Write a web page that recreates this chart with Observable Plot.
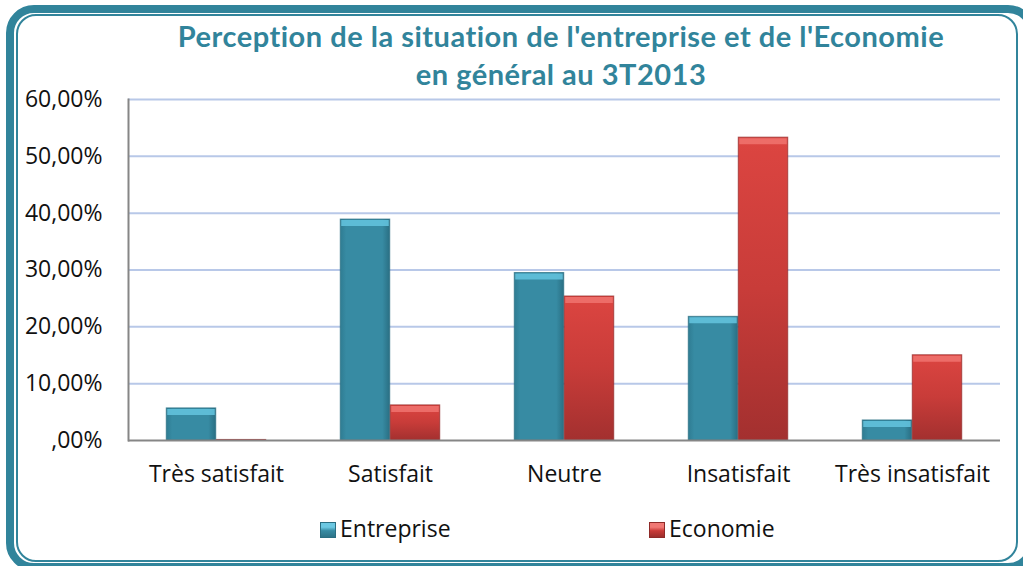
<!DOCTYPE html>
<html><head><meta charset="utf-8">
<script src="https://cdn.jsdelivr.net/npm/d3@7"></script>
<script src="https://cdn.jsdelivr.net/npm/@observablehq/plot@0.6"></script>
<style>
html,body{margin:0;padding:0;background:#fff;}
#page{position:relative;width:1023px;height:566px;overflow:hidden;background:#fff;font-family:"Open Sans",sans-serif;}
#outer{position:absolute;left:6px;top:5px;width:1030px;height:566px;box-sizing:border-box;border:8px solid #31849B;border-radius:28px;}
#inner{position:absolute;left:16px;top:14px;width:1002px;height:548px;box-sizing:border-box;border:2px solid #31849B;border-radius:20px;}
#title{position:absolute;left:0;width:1122px;top:17px;text-align:center;font-family:Lato,sans-serif;font-weight:700;font-size:29px;letter-spacing:0.5px;font-variant-ligatures:none;line-height:38px;color:#31849B;}
#chart{position:absolute;left:0;top:90px;}
.leg{position:absolute;top:512px;font-family:"Open Sans",sans-serif;font-size:23px;line-height:32px;color:#111;white-space:nowrap;}
.sw{display:inline-block;width:16px;height:16px;margin-right:4px;vertical-align:-1px;box-sizing:border-box;}
</style></head>
<body>
<div id="page">
  <div id="outer"></div>
  <div id="inner"></div>
  <div id="title">Perception de la situation de l'entreprise et de l'Economie<br>en général au 3T2013</div>
  <div id="chart"></div>
  <div id="legend"></div>
</div>
<script>
const categories = ["Très satisfait", "Satisfait", "Neutre", "Insatisfait", "Très insatisfait"];
const series = ["Entreprise", "Economie"];
const entreprise = [5.65, 38.88, 29.47, 21.76, 3.53];
const economie = [0.1, 6.18, 25.34, 53.29, 15.0];
const yTicks = [0, 10, 20, 30, 40, 50, 60];

const fillColors = {Entreprise: "url(#gradTeal)", Economie: "url(#gradRed)"};
const edgeColors = {Entreprise: "#2a6e82", Economie: "#8f2a28"};
const bevelColors = {Entreprise: "#62c1dc", Economie: "#ee716d"};
const swatchCss = {
  Entreprise: "background:linear-gradient(#6cc8e2 0,#6cc8e2 30%,#378BA3 55%,#2d7488 100%);border:1px solid #2a6e82;",
  Economie: "background:linear-gradient(#f07874 0,#f07874 30%,#c93b38 55%,#9c2e2c 100%);border:1px solid #8f2a28;"
};

const rowsE = categories.map((c, i) => ({category: c, series: "Entreprise", value: entreprise[i]}));
const rowsR = categories.map((c, i) => ({category: c, series: "Economie", value: economie[i]}));

const fmt = v => (v.toFixed(2).replace(".", ",").replace(/^0/, "")) + "%";

const bandHalf = 87.25, barW = 50;
const leftIn = {Entreprise: bandHalf - barW, Economie: bandHalf};
const rightIn = {Entreprise: bandHalf, Economie: bandHalf - barW};

function barMarks(rows, s) {
  return [
    Plot.barY(rows, {x: "category", y: "value", fill: fillColors[s], stroke: edgeColors[s], strokeWidth: 1, strokeOpacity: 0.7,
      insetLeft: leftIn[s], insetRight: rightIn[s]}),
    Plot.tickY(rows.filter(d => d.value > 1), {x: "category", y: "value", stroke: bevelColors[s], strokeWidth: 6, dy: 3.5,
      insetLeft: leftIn[s] + 1, insetRight: rightIn[s] + 1, strokeOpacity: 0.9})
  ];
}

const plot = Plot.plot({
  width: 1023,
  height: 410,
  marginTop: 9,
  marginBottom: 60,
  marginLeft: 128,
  marginRight: 23,
  style: {fontFamily: "Open Sans, sans-serif", fontSize: "23px", color: "#111", background: "transparent", overflow: "visible"},
  x: {domain: categories, padding: 0, label: null, tickSize: 0, tickPadding: 25},
  y: {domain: [0, 60], ticks: yTicks, tickFormat: fmt, label: null, tickSize: 0, tickPadding: 26},
  marks: [
    Plot.ruleY(yTicks.filter(v => v > 0), {stroke: "#b8c8e8", strokeWidth: 2}),
    ...barMarks(rowsE, "Entreprise"),
    ...barMarks(rowsR, "Economie"),
    Plot.ruleY([0], {stroke: "#868686", strokeWidth: 2}),
    Plot.frame({anchor: "left", stroke: "#868686", strokeWidth: 2})
  ]
});

const svgNS = "http://www.w3.org/2000/svg";
const defs = document.createElementNS(svgNS, "defs");
defs.innerHTML = `
<linearGradient id="gradTeal" x1="0" y1="0" x2="1" y2="0">
  <stop offset="0" stop-color="#2f7c92"/>
  <stop offset="0.12" stop-color="#378BA3"/>
  <stop offset="0.85" stop-color="#378BA3"/>
  <stop offset="1" stop-color="#2a6f83"/>
</linearGradient>
<linearGradient id="gradRed" x1="0" y1="0" x2="0" y2="1">
  <stop offset="0" stop-color="#dc4541"/>
  <stop offset="0.5" stop-color="#c83c39"/>
  <stop offset="1" stop-color="#a3302f"/>
</linearGradient>`;
plot.insertBefore(defs, plot.firstChild);
document.getElementById("chart").appendChild(plot);

const legendPos = {Entreprise: 320, Economie: 649};
const legend = document.getElementById("legend");
series.forEach(s => {
  const d = document.createElement("div");
  d.className = "leg";
  d.style.left = legendPos[s] + "px";
  d.innerHTML = `<span class="sw" style="${swatchCss[s]}"></span>${s}`;
  legend.appendChild(d);
});
</script>
</body></html>
